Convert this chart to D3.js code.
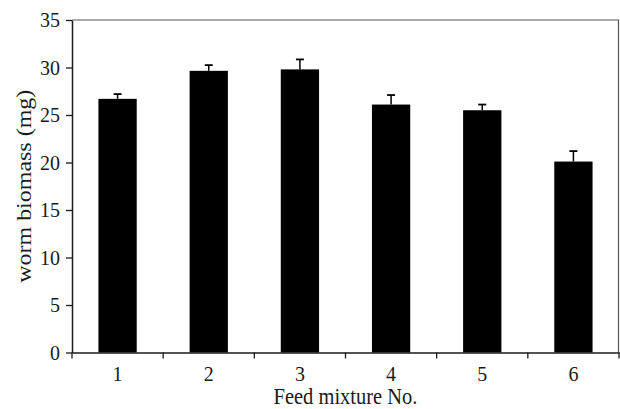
<!DOCTYPE html>
<html><head><meta charset="utf-8">
<script src="https://cdn.jsdelivr.net/npm/d3@7"></script>
<style>body{margin:0;background:#fff}svg{display:block}</style>
</head><body>
<script>
const categories = ["1","2","3","4","5","6"];
const values = [26.7, 29.65, 29.8, 26.1, 25.5, 20.1];
const errors = [0.5, 0.6, 1.05, 1.0, 0.6, 1.1];
const yTicks = [0,5,10,15,20,25,30,35];

const W=620,H=409;
const m={left:72,right:1,top:20,bottom:57};
const SY=1.1; // vertical stretch of the original figure's text
const svg=d3.select("body").append("svg").attr("width",W).attr("height",H);
const x=d3.scaleBand().domain(categories).range([m.left,W-m.right]).paddingInner(0.58).paddingOuter(0.29);
const y=d3.scaleLinear().domain([0,35]).range([H-m.bottom+0.5,m.top]);
const font="Liberation Serif, Times New Roman, serif";
const ink="#1a1a1a";

// frame top/right
svg.append("path").attr("d",`M${m.left},${m.top}H${W-m.right-0.5}V${y(0)}`)
  .attr("fill","none").attr("stroke","#555").attr("stroke-width",1.2);

// bars
svg.selectAll("rect.bar").data(values).join("rect")
  .attr("x",(d,i)=>x(categories[i])).attr("width",x.bandwidth())
  .attr("y",d=>y(d)).attr("height",d=>y(0)-y(d)).attr("fill","#000");

// error bars
const eg=svg.selectAll("g.err").data(values).join("g");
const cx=i=>x(categories[i])+x.bandwidth()/2;
eg.append("line").attr("x1",(d,i)=>cx(i)).attr("x2",(d,i)=>cx(i))
  .attr("y1",d=>y(d)).attr("y2",(d,i)=>y(d+errors[i])).attr("stroke","#000").attr("stroke-width",1.5);
eg.append("line").attr("x1",(d,i)=>cx(i)-4).attr("x2",(d,i)=>cx(i)+4)
  .attr("y1",(d,i)=>y(d+errors[i])).attr("y2",(d,i)=>y(d+errors[i])).attr("stroke","#000").attr("stroke-width",1.8);

// y axis
const ya=svg.append("g").attr("transform",`translate(${m.left},0)`)
  .call(d3.axisLeft(y).tickValues(yTicks).tickSize(6).tickFormat("").tickSizeOuter(0));
ya.select(".domain").attr("stroke",ink).attr("stroke-width",1.5);
ya.selectAll(".tick line").attr("stroke",ink).attr("stroke-width",1.3);
svg.selectAll("text.yl").data(yTicks).join("text").attr("class","yl")
  .attr("transform",d=>`translate(60,${y(d)}) scale(1,${SY})`)
  .attr("dy","0.34em").attr("text-anchor","end")
  .attr("font-family",font).attr("font-size",20).attr("fill",ink).text(d=>d);

// x axis with ticks at band boundaries
const xa=svg.append("g").attr("transform",`translate(0,${y(0)})`)
  .call(d3.axisBottom(x).tickSize(0).tickFormat("").tickSizeOuter(0));
xa.select(".domain").attr("stroke",ink).attr("stroke-width",1.5);
const bounds=d3.range(categories.length+1).map(i=>m.left+i*(W-m.right-m.left)/categories.length);
xa.selectAll("line.bt").data(bounds).join("line").attr("class","bt")
  .attr("x1",d=>d).attr("x2",d=>d).attr("y1",0).attr("y2",6).attr("stroke",ink).attr("stroke-width",1.3);
svg.selectAll("text.xl").data(categories).join("text").attr("class","xl")
  .attr("transform",(d,i)=>`translate(${cx(i)},381) scale(1,${SY})`)
  .attr("text-anchor","middle")
  .attr("font-family",font).attr("font-size",20).attr("fill",ink).text(d=>d);

// titles
svg.append("text").attr("transform",`translate(${(m.left+W-m.right)/2},404) scale(1,${SY})`).attr("text-anchor","middle")
  .attr("font-family",font).attr("font-size",20.5).attr("fill",ink).text("Feed mixture No.");
svg.append("text").attr("transform",`translate(31,${(m.top+y(0))/2}) rotate(-90) scale(1.17,1)`).attr("text-anchor","middle")
  .attr("font-family",font).attr("font-size",20.5).attr("fill",ink).text("worm biomass (mg)");
</script>
</body></html>
